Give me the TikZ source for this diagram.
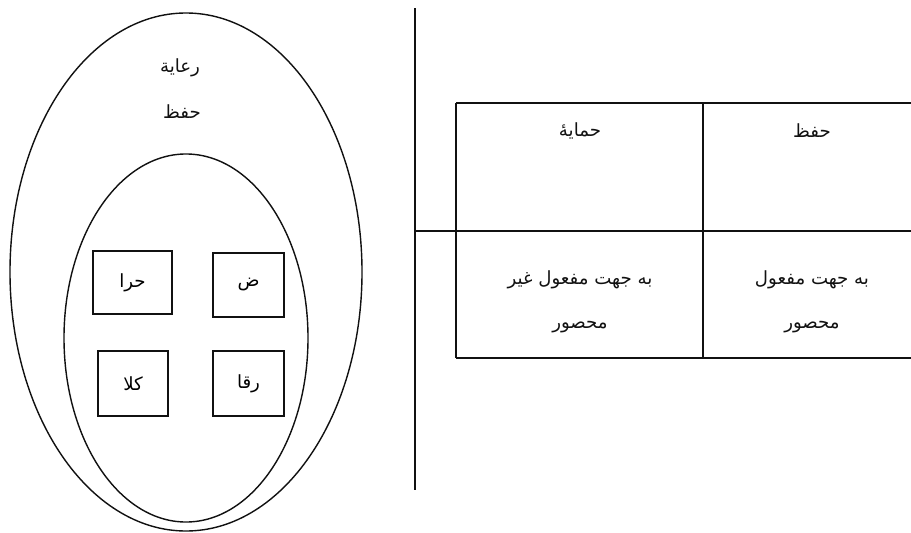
\documentclass[tikz,border=0pt]{standalone}
\usepackage{fontspec}
\newfontfamily\arabicfont[Script=Arabic]{DejaVu Sans}
\TeXXeTstate=1
\usepackage{xcolor}
\definecolor{inkblack}{HTML}{111111}
\usepackage{tikz}
\usetikzlibrary{shapes.geometric, positioning}
\tikzset{
  oval/.style   ={ellipse, draw=inkblack, line width=1.2pt, inner sep=0pt},
  lbox/.style   ={rectangle, draw=inkblack, line width=1.6pt, inner sep=0pt, font=\arabicfont\fontsize{15.5}{17}\selectfont},
  ltxt/.style   ={text=inkblack, inner sep=1pt, align=center, font=\arabicfont\fontsize{15.5}{38}\selectfont},
  rule/.style   ={draw=inkblack, line width=1.6pt},
}

\begin{document}
\begin{tikzpicture}[x=0.03cm, y=-0.03cm]
  \useasboundingbox (0,0) rectangle (911,533);
  % left: nested ovals
  \node[oval, minimum width=10.56cm, minimum height=15.54cm] (outer) at (186,272) {};
  \node[oval, minimum width=7.32cm, minimum height=11.04cm] (inner) at (186,338) {};
  \node[ltxt] (care) at (180,68) {\beginR رعاية\endR};
  \node[ltxt] (keep) at (182,112) {\beginR حفظ\endR};
  \node[lbox, minimum width=2.37cm, minimum height=1.89cm] (hara) at (132.5,282.5) {\beginR حرا\endR};
  \node[lbox, minimum width=2.13cm, minimum height=1.92cm] (dad)  at (248.5,285) {\beginR ض\endR};
  \node[lbox, minimum width=2.1cm, minimum height=1.95cm] (kala) at (133,383.5) {\beginR كلا\endR};
  \node[lbox, minimum width=2.13cm, minimum height=1.95cm, line width=1pt] (raqa) at (248.5,383.5) {\beginR رقا\endR};
  % right: divider and table
  \coordinate (vtop) at (415,8);
  \coordinate (vbot) at (415,490);
  \draw[rule] (vtop) -- (vbot);
  \coordinate (tl) at (456,103);  \coordinate (tr) at (911,103);
  \coordinate (ml) at (415,231);  \coordinate (mr) at (911,231);
  \coordinate (bl) at (456,358);  \coordinate (br) at (911,358);
  \coordinate (ct) at (703,103);  \coordinate (cb) at (703,358);
  \draw[rule] (tl) -- (tr) (ml) -- (mr) (bl) -- (br) (tl) -- (bl);
  \draw[rule, line width=2.2pt] (ct) -- (cb);
  \node[ltxt] (himaya) at (580,131) {\beginR حمایهٔ\endR};
  \node[ltxt] (hifz)   at (812,131) {\beginR حفظ\endR};
  \node[ltxt] (nonlim) at (580,302) {\beginR به جهت مفعول غیر\endR\\\beginR محصور\endR};
  \node[ltxt] (lim)    at (812,302) {\beginR به جهت مفعول\endR\\\beginR محصور\endR};
\end{tikzpicture}
\end{document}
